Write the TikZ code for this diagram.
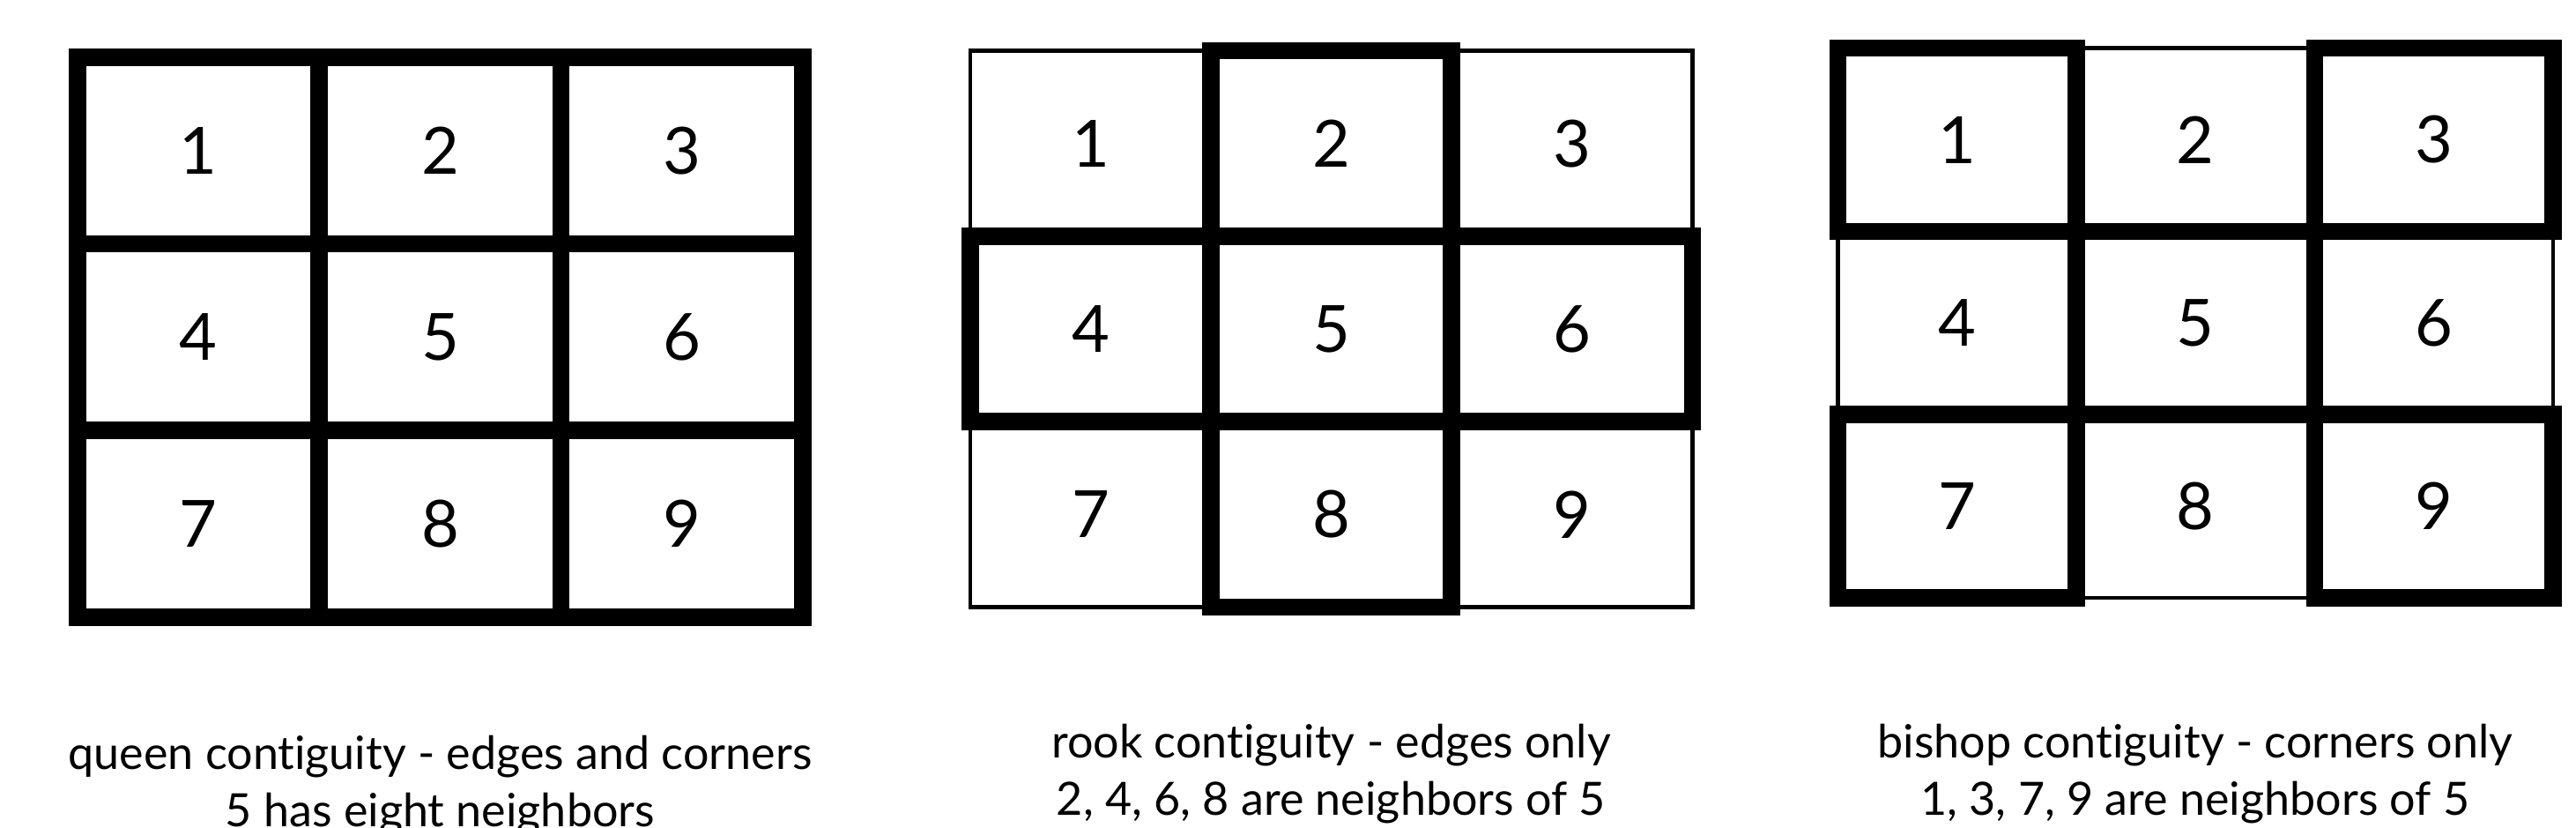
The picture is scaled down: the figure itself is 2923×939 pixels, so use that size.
\documentclass[tikz,border=0pt]{standalone}
\usepackage{fontspec}
\setmainfont{Lato}[Ligatures=NoCommon]
\usetikzlibrary{positioning}

\begin{document}
\begin{tikzpicture}[x=0.01cm,y=-0.01cm,node distance=0pt,
    heavy/.style={line width=0.195cm},
    light/.style={line width=0.045cm},
    cell/.style={inner sep=0pt,outer sep=0pt,font=\fontsize{21}{25}\selectfont},
    qcell/.style={cell,minimum width=2.743cm,minimum height=2.115cm},
    rcell/.style={cell,minimum width=2.73cm,minimum height=2.102cm},
    bcell/.style={cell,minimum width=2.703cm,minimum height=2.077cm},
    caption/.style={align=center,anchor=base,font=\fontsize{14.8}{18.4}\selectfont}]
  \useasboundingbox (0,0) rectangle (2923,939);

  % queen
  \node[qcell] (q1) at (225,170.75) {1};
  \node[qcell,right=of q1] (q2) {2};
  \node[qcell,right=of q2] (q3) {3};
  \node[qcell,below=of q1] (q4) {4};
  \node[qcell,right=of q4] (q5) {5};
  \node[qcell,right=of q5] (q6) {6};
  \node[qcell,below=of q4] (q7) {7};
  \node[qcell,right=of q7] (q8) {8};
  \node[qcell,right=of q8] (q9) {9};
  \foreach \c in {1,...,9}
    \draw[heavy] (q\c.north west) rectangle (q\c.south east);
  \node[caption] (qtext) at (499.5,937) {queen contiguity - edges and corners\\5 has eight neighbors};

  % rook
  \node[rcell] (r1) at (1237.5,162.75) {1};
  \node[rcell,right=of r1] (r2) {2};
  \node[rcell,right=of r2] (r3) {3};
  \node[rcell,below=of r1] (r4) {4};
  \node[rcell,right=of r4] (r5) {5};
  \node[rcell,right=of r5] (r6) {6};
  \node[rcell,below=of r4] (r7) {7};
  \node[rcell,right=of r7] (r8) {8};
  \node[rcell,right=of r8] (r9) {9};
  \draw[light] (r1.north west) rectangle (r9.south east);
  \draw[heavy] (r2.north west) rectangle (r8.south east);
  \draw[heavy] (r4.north west) rectangle (r6.south east);
  \node[caption] (rtext) at (1510.5,924) {rook contiguity - edges only\\2, 4, 6, 8 are neighbors of 5};

  % bishop
  \node[bcell] (b1) at (2220.75,158.5) {1};
  \node[bcell,right=of b1] (b2) {2};
  \node[bcell,right=of b2] (b3) {3};
  \node[bcell,below=of b1] (b4) {4};
  \node[bcell,right=of b4] (b5) {5};
  \node[bcell,right=of b5] (b6) {6};
  \node[bcell,below=of b4] (b7) {7};
  \node[bcell,right=of b7] (b8) {8};
  \node[bcell,right=of b8] (b9) {9};
  \draw[light] (b1.north west) rectangle (b9.south east);
  \foreach \c in {1,3,5,7,9}
    \draw[heavy] (b\c.north west) rectangle (b\c.south east);
  \node[caption] (btext) at (2491,924) {bishop contiguity - corners only\\1, 3, 7, 9 are neighbors of 5};
\end{tikzpicture}
\end{document}
